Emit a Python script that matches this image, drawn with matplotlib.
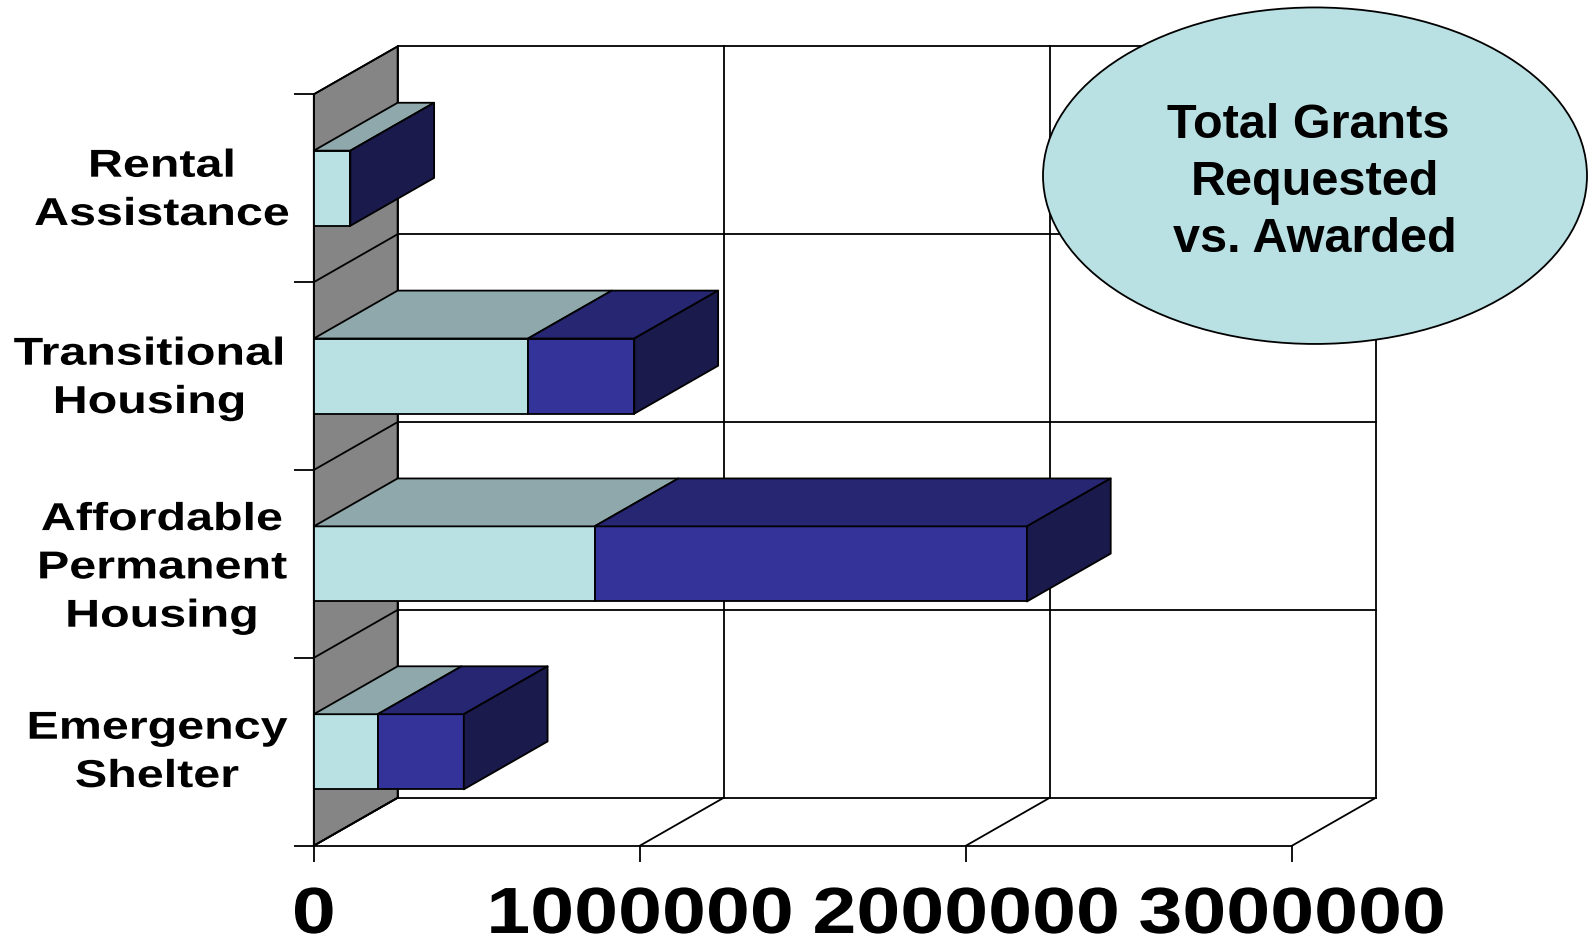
"""Total grants requested vs awarded, 3D-look stacked horizontal bars."""
import matplotlib
matplotlib.use("Agg")
import matplotlib.pyplot as plt
from matplotlib.patches import Ellipse, Polygon
from matplotlib.patheffects import AbstractPathEffect
from matplotlib.transforms import Affine2D

# bottom to top, as the axis runs
categories = ["Emergency\nShelter", "Affordable\nPermanent\nHousing",
              "Transitional\nHousing", "Rental\nAssistance"]
awarded = [196000, 861000, 657000, 112000]
requested_extra = [264000, 1326000, 326000, 0]
x_ticks = [0, 1000000, 2000000, 3000000]
title = "Total Grants \nRequested\nvs. Awarded"

W, H = 1592, 935
FONT = "Liberation Sans"
TEAL = ("#b9e0e3", "#8fa8ab")
BLUE = ("#333399", "#262673", "#1a1a4d")
LW = 1.3

# fake depth of the chart box, in data units
DEPTH_X = 257000
DEPTH_Y = 0.255
BAR_H = 0.40


class StretchX(AbstractPathEffect):
    """Widen a text horizontally about its anchor (the original font is stretched)."""

    def __init__(self, text, sx):
        super().__init__()
        self.text = text
        self.sx = sx

    def draw_path(self, renderer, gc, tpath, affine, rgbFace=None):
        cx = self.text.get_transform().transform(self.text.get_position())[0]
        wide = affine + Affine2D().translate(-cx, 0).scale(self.sx, 1).translate(cx, 0)
        renderer.draw_path(gc, tpath, wide, rgbFace)


def stretch(text, sx):
    text.set_path_effects([StretchX(text, sx)])


def poly(ax, pts, face, z=3):
    ax.add_patch(Polygon(pts, closed=True, facecolor=face, edgecolor="black",
                         linewidth=LW, zorder=z, clip_on=False, joinstyle="round"))


fig = plt.figure(figsize=(W / 100, H / 100), dpi=100, facecolor="white")
ax = fig.add_axes([313.8 / W, 1 - 845.7 / H, (1292 - 313.8) / W, (845.7 - 94.3) / H])
ax.patch.set_visible(False)
ax.set_xlim(0, x_ticks[-1])
ax.set_ylim(0, len(categories))

# back wall and grid
n = len(categories)
xmax = x_ticks[-1]
poly(ax, [(0, 0), (DEPTH_X, DEPTH_Y), (DEPTH_X, n + DEPTH_Y), (0, n)], "#858585", z=1)
line = dict(color="black", linewidth=LW, zorder=1.5, clip_on=False)
for i in range(n + 1):
    ax.plot([0, DEPTH_X], [i, i + DEPTH_Y], **line)
    ax.plot([DEPTH_X, xmax + DEPTH_X], [i + DEPTH_Y, i + DEPTH_Y], **line)
for x in x_ticks:
    ax.plot([x, x + DEPTH_X], [0, DEPTH_Y], **line)
    ax.plot([x + DEPTH_X, x + DEPTH_X], [DEPTH_Y, n + DEPTH_Y], **line)

# bars: front faces from barh, top and side faces offset by the depth
ys = [i + 0.5 for i in range(n)]
ax.barh(ys, awarded, height=BAR_H, color=TEAL[0], edgecolor="black", linewidth=LW, zorder=3)
ax.barh(ys, requested_extra, left=awarded, height=BAR_H, color=BLUE[0],
        edgecolor="black", linewidth=LW, zorder=3)
for y, a, r in zip(ys, awarded, requested_extra):
    top = y + BAR_H / 2
    bot = y - BAR_H / 2
    poly(ax, [(0, top), (a, top), (a + DEPTH_X, top + DEPTH_Y), (DEPTH_X, top + DEPTH_Y)], TEAL[1])
    if r > 0:
        poly(ax, [(a, top), (a + r, top), (a + r + DEPTH_X, top + DEPTH_Y),
                  (a + DEPTH_X, top + DEPTH_Y)], BLUE[1])
    end = a + r
    poly(ax, [(end, bot), (end + DEPTH_X, bot + DEPTH_Y), (end + DEPTH_X, top + DEPTH_Y),
              (end, top)], BLUE[2])

# axes
for s in ["top", "right"]:
    ax.spines[s].set_visible(False)
for s in ["left", "bottom"]:
    ax.spines[s].set_linewidth(LW)
ax.set_yticks(range(n + 1))
ax.set_yticklabels([])
ax.set_xticks(x_ticks)
ax.set_xticklabels([str(v) for v in x_ticks], fontfamily=FONT, fontweight="bold", fontsize=47)
ax.tick_params(axis="y", length=14.4, width=LW)
ax.tick_params(axis="x", length=11.5, width=LW, pad=17.5)
for lab in ax.get_xticklabels():
    stretch(lab, 1.21)

# category labels: centre x and last baseline in pixels of the original
label_px = [(157, 787), (162, 626.7), (149.6, 413), (162, 225)]
for text, (cx, base) in zip(categories, label_px):
    t = fig.text(cx / W, 1 - base / H, text, ha="center", va="baseline", ma="center",
                 fontfamily=FONT, fontweight="bold", fontsize=28, linespacing=1.44)
    stretch(t, 1.245)

# title bubble
fig.add_artist(Ellipse((1315 / W, 1 - 175.7 / H), 544 / W, 336.5 / H, transform=fig.transFigure,
                       facecolor=TEAL[0], edgecolor="black", linewidth=LW, zorder=5))
fig.text(1315 / W, 1 - 251.7 / H, title, ha="center", va="baseline", ma="center",
         fontfamily=FONT, fontweight="bold", fontsize=35, linespacing=1.34, zorder=6)

fig.savefig("out.png", dpi=100)
